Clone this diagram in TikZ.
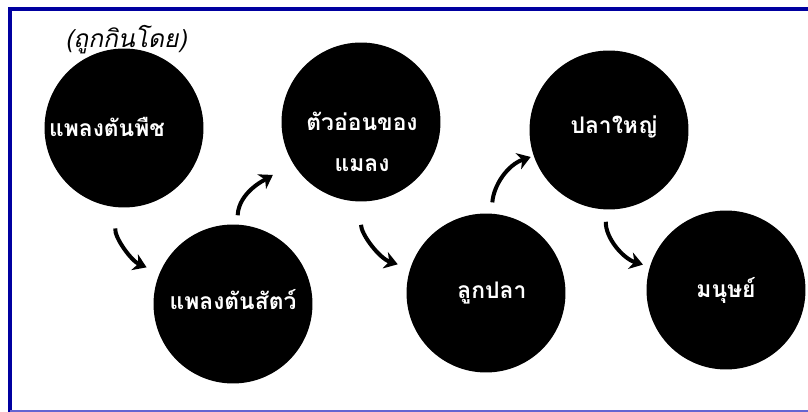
\documentclass[tikz,border=0pt]{standalone}
\usepackage{fontspec}
\newfontfamily\thaifont[Script=Thai,AutoFakeSlant=0.2]{Loma}
\usetikzlibrary{arrows.meta}

\definecolor{framedark}{RGB}{0,0,160}
\definecolor{framelight}{RGB}{100,100,210}

\begin{document}
\begin{tikzpicture}[x=0.02cm, y=0.02cm,
    blob/.style={circle, fill=black, minimum size=3.18cm, inner sep=0pt},
    thai/.style={text=white, font=\thaifont\bfseries\fontsize{13}{23}\selectfont, align=center},
    flow/.style={line width=0.08cm, -{Stealth[length=0.26cm,width=0.34cm,inset=0.08cm]}}
]
        \useasboundingbox (0,0) rectangle (808,412);

        % Frame
        \draw[framedark, line width=0.08cm] (10,0) -- (10,403) -- (808,403);
        \draw[framelight, line width=0.04cm] (10,1) -- (808,1);

        % Caption
        \node[font=\thaifont\itshape\fontsize{14}{16}\selectfont] (eaten) at (126,372) {(ถูกกินโดย)};

        % Circles
        \node[blob] (phyto) at (124,284) {};
        \node[blob] (zoo) at (233,108) {};
        \node[blob] (insect) at (361,290) {};
        \node[blob] (fry) at (486,119) {};
        \node[blob] (bigfish) at (609,282) {};
        \node[blob] (human) at (726,122) {};

        % Labels
        \node[thai] (phytotext) at (107,285) {แพลงตันพืช};
        \node[thai] (zootext) at (233,112) {แพลงตันสัตว์};
        \node[thai] (insecttext) at (362,270) {ตัวอ่อนของ\\แมลง};
        \node[thai] (frytext) at (492,119) {ลูกปลา};
        \node[thai] (bigfishtext) at (614,285) {ปลาใหญ่};
        \node[thai] (humantext) at (726,122) {มนุษย์};

        % Arrows
        \draw[flow, shorten <=0.42cm, shorten >=0.28cm] (phyto) to[out=-95, in=157] (zoo);
        \draw[flow, shorten <=0.18cm, shorten >=0.46cm] (zoo) to[out=87, in=-149] (insect);
        \draw[flow, shorten <=0.46cm, shorten >=0.26cm] (insect) to[out=-90, in=162] (fry);
        \draw[flow, shorten <=0.22cm, shorten >=0.06cm] (fry) to[out=86, in=-161] (bigfish);
        \draw[flow, shorten <=0.24cm, shorten >=0.14cm] (bigfish) to[out=-92, in=163] (human);
    \end{tikzpicture}
\end{document}
